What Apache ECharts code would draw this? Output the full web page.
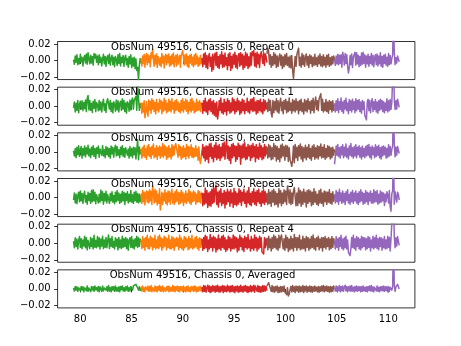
<!DOCTYPE html>
<html>
<head>
<meta charset="utf-8">
<script src="https://cdn.jsdelivr.net/npm/echarts@6/dist/echarts.min.js"></script>
<style>
  html, body { margin: 0; padding: 0; background: #fff; }
  #chart { width: 461px; height: 346px; }
</style>
</head>
<body>
<div id="chart"></div>
<script>
// Frequency bands (GHz) covered by each spectrometer section
const bandStart = [79.35, 85.93, 91.86, 98.19, 104.77];
const bandEnd   = [85.93, 91.86, 98.19, 104.77, 111.07];
const bandColors = ['#2ca02c', '#ff7f0e', '#d62728', '#8c564b', '#9467bd'];

const panelTitles = [
  'ObsNum 49516, Chassis 0, Repeat 0',
  'ObsNum 49516, Chassis 0, Repeat 1',
  'ObsNum 49516, Chassis 0, Repeat 2',
  'ObsNum 49516, Chassis 0, Repeat 3',
  'ObsNum 49516, Chassis 0, Repeat 4',
  'ObsNum 49516, Chassis 0, Averaged'
];

const xTicks = [80, 85, 90, 95, 100, 105, 110];
const yTicks = [-0.02, 0, 0.02];

// Residual spectra in units of 1e-4, one list per band (green, orange, red, brown, purple)
const repeat0 = [
  [10, -45, 55, -20, 70, -50, 25, -40, 75, -15,
   40, -65, 30, 60, -30, 80, -45, 95, 20, -40,
   65, -30, 50, -55, 85, 30, 75, -20, 55, -50,
   70, -25, 40, -65, 20, 75, -40, 50, -70, 35,
   60, -35, 80, -55, 25, 65, -50, 40, -75, 50,
   15, -60, 70, -35, 85, -65, 40, -25, 60, -70,
   35, 65, -50, 25, -80, 50, -40, 70, -85, 30,
   -65, 40, -100, 20, -120, -80, -235, -50, 25, -35],
  [25, -65, 55, -35, 75, -80, 40, 85, -50, 70,
   -25, 55, -75, 95, 30, 140, 15, -70, 65, -40,
   80, -85, 50, 70, -55, 35, -75, 85, -30, 55,
   -90, 40, 75, -50, 65, -25, 80, -70, 50, -55,
   70, -40, 90, -75, 30, 60, -65, 75, -45, 25,
   65, -80, 55, 85, 120, 40, -55, 70, -40, 80,
   -70, 50, -85, 65, -30, 75, -55, 40, -75, 70,
   -50, 85, -40, 55, -70, 30, -55, 65, -35, 25],
  [30, -75, 80, -45, 95, -85, 60, -100, 45, 85,
   -70, 40, -130, 75, -105, 55, 90, -60, 100, -80,
   50, -95, 70, -40, 105, -85, 65, -75, 90, -55,
   35, -110, 80, -60, 95, -120, 50, -90, 75, -45,
   100, -80, 60, -100, 40, 85, -70, 95, -50, 75,
   -105, 55, -85, 100, -60, 80, -95, 45, -75, 90,
   -55, 110, 60, 120, -65, 85, -80, 100, -40, 75,
   -85, 65, 105, 115, -35, 95, -60, 80, 45, -25],
  [80, 150, 110, -45, 70, -80, 50, -60, 95, -40,
   75, -85, 55, -70, 35, 80, -55, 65, -95, 45,
   -75, 70, -50, 85, -60, 40, -80, 55, -90, 60,
   -110, -220, -85, 50, -70, 75, 95, 150, -60, 40,
   -80, 85, -50, 65, -70, 35, 80, -55, 50, -85,
   70, -35, 55, -75, 40, -60, 75, -50, 35, -70,
   55, -40, 80, -65, 50, -75, 70, -55, 40, -80,
   65, -50, 75, -70, 35, -55, 50, -40, 55, 15],
  [20, -60, 55, -40, 75, -50, 65, -35, 70, -80,
   100, 45, -55, 85, -35, 70, -70, -150, -90, 60,
   -50, 80, -85, 40, 70, 100, -55, 95, -40, 65,
   -75, 50, -60, 90, -45, 100, -35, 70, -80, 55,
   -40, 75, -70, 50, -35, 85, -55, 65, -75, 40,
   70, -50, 80, -65, 55, -40, 95, -70, 50, -80,
   65, -35, 75, -55, 40, -70, 85, -50, 60, -40,
   25, 65, 600, 100, -50, 35, -30, 55, 75, -15]
];

const repeat1 = [
  [-20, 50, -70, 35, -50, 70, -80, 25, 60, -35,
   65, -55, 45, -30, 75, -65, 95, 130, -45, 70,
   -50, 35, -75, 60, -25, 80, -65, 45, 20, -55,
   70, -45, 50, -70, 35, 85, -50, 30, -75, 60,
   90, 110, -35, 70, -65, 40, -80, 55, 25, -60,
   75, -45, 65, -70, 35, 60, -50, 90, -35, 70,
   -65, 40, -85, 55, 30, -60, 75, -45, 65, 100,
   -35, 70, 90, 120, -50, 260, 100, -50, 30, -20],
  [45, -85, 35, -70, 65, -140, -80, 55, -60, -120,
   75, -45, 60, -85, 90, -35, 70, -65, 45, -95,
   80, -50, 35, -70, 85, -30, 65, -90, 50, -60,
   95, -45, 70, -80, 35, -65, 85, -50, 60, -70,
   90, -35, 45, -85, 65, -55, 80, -45, 50, -65,
   30, -80, 70, -50, 90, -70, 55, -35, 85, -60,
   65, -90, 45, -50, 80, -70, 95, -45, 60, -80,
   35, -65, 85, -55, 50, -45, 70, -65, 40, 20],
  [40, -85, 65, -55, 95, -70, 50, -100, 75, -45,
   90, -65, 55, -90, 70, -110, 35, -125, 50, -155,
   -80, 70, -50, 100, -80, 35, -95, 85, -65, 50,
   -105, 90, -55, 70, -85, 40, -70, 100, -50, 80,
   -90, 55, -65, 95, -45, 65, -100, 50, -80, 85,
   -55, 70, -90, 35, -50, 95, -70, 55, -85, 80,
   -45, 90, -65, 105, -55, 50, -95, 70, -80, 65,
   -50, 85, -70, 45, -90, 80, -55, 65, -35, 40],
  [50, -65, 85, -50, 70, -90, -130, 70, -80, 55,
   -45, 90, -70, 65, -85, 40, 95, -55, 50, -90,
   70, -35, 85, -80, 55, -65, 100, -50, 40, -85,
   80, -55, 65, -70, 90, -45, 55, -90, 70, -50,
   85, -65, 40, -95, 80, -55, 65, -70, 90, -35,
   55, -85, 70, -50, 95, -80, 50, 110, -40, 65,
   -55, 90, 120, 150, -50, 85, -70, 40, -55, 80,
   -65, 50, -85, 70, -40, 55, -70, 65, -50, -30],
  [35, -70, 65, -50, 90, -80, 55, -40, 100, -65,
   50, -85, 70, -35, 95, -55, 40, -90, 80, -50,
   65, -70, 85, -40, 55, -80, 90, -55, 70, -35,
   80, -65, 50, -85, 70, -40, 55, -110, -130, -165,
   50, 85, -55, 70, -80, 40, 90, -65, 55, -40,
   80, -70, 50, -85, 65, -50, 85, -35, 70, -65,
   55, -80, 40, -50, 90, -70, 65, -55, 80, -40,
   50, 70, 620, 90, -40, 65, -35, 85, 100, -15]
];

const repeat2 = [
  [15, -50, 40, -70, 55, -35, 75, -55, 25, 65,
   -75, 40, -40, 70, -60, 50, -25, 80, -50, 35,
   -70, 55, -35, 75, -55, 40, -80, 50, -20, 70,
   -65, 35, 55, -40, 75, -50, 25, -70, 65, -35,
   50, -55, 40, -75, 70, -25, 55, -65, 35, 80,
   -50, 65, -40, 25, -70, 55, -35, 75, -55, 40,
   -65, 50, 70, -40, 35, -75, 65, -50, 40, -70,
   55, -35, 50, -85, -100, 150, -95, 60, -25, 30],
  [40, -75, 55, -50, 80, -65, 35, -90, 70, -40,
   90, -55, 50, -80, 65, -35, 95, -70, 40, -55,
   75, -90, 50, -40, 70, -75, 55, -50, 100, -65,
   80, -40, 65, -90, 50, -70, 75, -55, 40, -85,
   90, -50, 65, -35, 70, 100, 80, 120, -65, 85,
   -40, 65, -90, 50, -70, 75, -55, 40, -85, 90,
   -50, 65, -75, 55, -40, 85, -65, 50, -70, 40,
   -55, 75, -50, 35, -100, 60, -90, -140, -75, 20],
  [-45, 90, -70, 55, -110, 75, -90, 65, -130, 95,
   -55, 105, -80, 50, -120, 80, -65, 110, -95, 70,
   -75, 90, -105, 55, -70, 100, -50, 120, -90, 65,
   150, -80, 70, -100, 55, -140, 90, -70, 100, -50,
   75, -115, 65, -90, 105, -55, 80, -150, 70, -75,
   95, -65, 110, -95, 55, -85, 90, -50, 70, -105,
   80, -70, 100, -55, 65, -120, 90, -75, 55, -90,
   105, -60, 75, -95, 50, -80, 90, -50, 65, -30],
  [55, -75, 90, -60, 70, -95, 50, -85, 100, -55,
   75, -110, 65, -90, 40, -120, 80, -70, 95, -50,
   65, -100, 80, -55, 70, -115, 50, -90, -130, -175,
   -100, 70, -130, 90, -70, 55, -105, 75, -50, 95,
   -85, 65, -115, 50, -70, 80, -95, 55, -65, 90,
   -80, 40, -100, 70, -55, 85, -90, 50, -70, 75,
   -85, 65, -50, 95, -75, 55, -65, 85, -90, 40,
   -70, 75, -55, 65, -85, 50, -70, 55, -40, 30],
  [-150, -60, 70, -40, 90, -55, 50, -75, 65, -35,
   85, -70, 55, -50, 95, -65, 40, -85, 70, -40,
   100, -55, 50, -75, 65, -50, 85, -70, 55, -35,
   75, -65, 50, -85, 70, -55, 40, -70, 65, -50,
   80, -40, 90, -65, 55, -85, 70, -35, 50, -70,
   85, -55, 65, -40, 80, -70, 50, -85, 65, -50,
   70, -35, 55, -75, 40, -65, 85, -50, 65, -40,
   30, 70, 580, 100, -60, 55, -40, 65, 80, -20]
];

const repeat3 = [
  [-30, 55, -65, 40, -75, 25, 65, -50, 80, -40,
   50, -70, 35, 75, -55, 25, -80, 65, -35, 50,
   -70, 85, -50, 95, -40, 65, -75, 35, 55, -65,
   40, -55, 90, -35, 70, -80, 50, -40, 75, -65,
   35, 55, -70, 50, -40, 70, -55, 25, -75, 65,
   -50, 85, -35, 55, -70, 40, -55, 75, -40, 65,
   -85, 50, -35, 70, -65, 40, -50, 85, -55, 35,
   -70, 65, -40, 75, -55, 50, -65, 40, -50, 25],
  [50, -70, 85, -50, 65, -90, 40, 80, -55, 70,
   -65, 95, -40, 75, -85, 140, 55, -65, 100, -50,
   80, -90, 40, -70, 105, -150, -60, 65, -85, 50,
   -40, 95, -70, 55, -90, 80, -50, 70, -80, 35,
   100, -65, 50, -85, 70, -55, 95, -40, 65, -80,
   55, -70, 85, -50, 65, -95, 40, -55, 80, -70,
   50, -40, 95, -65, 70, -85, 55, -50, 80, -35,
   65, -80, 40, -55, 85, -50, 70, -65, 50, 30],
  [60, -100, 45, -80, 115, -65, 85, -120, 55, -95,
   70, -105, 100, -70, 120, -55, 95, 150, -85, 65,
   -115, 80, -55, 105, -95, 50, -70, 85, -125, 65,
   -80, 100, -50, 70, -105, 95, -65, 55, -120, 110,
   -85, 70, -100, 50, -80, 105, -55, 85, -95, 65,
   -40, 100, -70, 55, -115, 80, -65, 120, -85, 50,
   -100, 70, -55, 105, -80, 65, -95, 85, -50, 100,
   -70, 55, -105, 80, -65, 95, -85, 70, -55, 40],
  [55, -85, 95, -70, 65, -105, 85, -55, 100, -90,
   70, -80, 50, -115, 105, -65, 85, -100, 55, -70,
   95, -50, 80, -85, 140, 70, -65, 95, -85, 55,
   -70, 80, 120, 135, -100, 55, -95, 115, -65, 85,
   -105, 70, -80, 100, -55, 65, -115, 85, -70, 95,
   -50, 80, -100, 65, -85, 105, -55, 70, -80, 40,
   -95, 85, -65, 100, -70, 55, -105, 80, -50, 70,
   -85, 65, -55, 95, -70, 50, -80, 70, -45, 35],
  [40, -65, 85, -50, 65, -80, 100, -40, 55, -70,
   80, -55, 50, -85, 70, -35, 95, -65, 40, -80,
   65, -50, 85, -70, 55, -40, 80, -65, 50, -85,
   70, -55, 95, -40, 65, -80, 50, -70, 85, -50,
   65, -85, 55, -40, 80, -65, 50, -70, 95, -55,
   70, -50, 85, -80, 40, -65, 80, -55, 65, -40,
   55, -95, 40, -50, 70, 35, -65, 85, -110, -165,
   45, 80, 600, -80, 70, 50, -55, 65, 40, -30]
];

const repeat4 = [
  [25, -55, 65, -40, 50, -70, 35, 80, -50, 55,
   -65, 40, -35, 85, -55, 65, -80, 35, 50, -65,
   70, -40, 55, -70, 95, -50, 35, -55, 80, -40,
   65, -70, 50, -35, 85, -65, 40, -50, 70, -55,
   35, 100, -65, 55, -40, 80, -50, 25, -70, 65,
   -35, 50, -80, 70, -55, 40, -65, 85, -50, 55,
   -40, 70, -65, 50, -85, 35, 65, -50, 80, -55,
   40, -70, 55, -35, 85, -50, 65, -40, 50, 15],
  [40, -65, 80, -50, 55, -85, 70, -40, 95, -65,
   50, -70, 85, -35, 65, -80, 55, -50, 95, -70,
   40, -55, 80, -65, 100, -40, 65, -85, 50, -55,
   85, -35, 70, -80, 55, -50, 95, -65, 40, -70,
   80, -55, 65, -85, 50, -40, 70, -35, 55, -80,
   95, -50, 65, -70, 40, -85, 80, -55, 70, -40,
   50, -80, 85, -65, 55, -50, 95, -70, 40, -55,
   70, -40, 80, -65, 50, -85, 65, -50, 55, -30],
  [50, -85, 70, -65, 95, -55, 80, -100, 40, -70,
   105, -50, 65, -95, 85, -55, 70, -105, 50, -80,
   100, -65, 55, -85, 80, -50, 95, -70, 65, -100,
   40, -80, 85, -55, 70, -95, 50, -65, 100, -70,
   80, -55, 65, -105, 50, -85, 95, -40, 70, -80,
   55, -100, 85, -50, 65, -70, 105, -55, 40, -95,
   80, -65, 50, -85, 100, -55, 70, -95, 55, -70,
   85, -50, 65, -105, -115, -130, 70, -55, 50, -30],
  [65, -80, 85, -55, 50, -95, 70, -65, 100, -50,
   80, -70, 55, -85, 95, -55, 70, 100, 110, -70,
   55, -85, 95, -55, 70, -100, 50, -80, 85, -65,
   55, -95, 105, -50, 70, -85, 65, -55, 95, -80,
   40, -70, 85, -65, 55, -95, 80, -50, 70, -85,
   50, -65, 80, -50, 100, -70, 55, -85, 65, -40,
   85, -80, 50, -55, 70, -95, 65, -50, 80, -70,
   55, -40, 70, -80, 50, -65, 80, -50, 55, 30],
  [30, -70, 80, -50, 55, -85, 70, -40, 95, -65,
   50, -80, 65, -55, 85, -70, 40, -110, -95, -150,
   -65, 70, -50, 95, -65, 55, -85, 80, -40, 65,
   -70, 50, -80, 85, -55, 70, -40, 65, -80, 55,
   -65, 80, -50, 70, -95, 40, -55, 85, -70, 65,
   -50, 95, -65, 55, -80, 70, -40, 65, -85, 50,
   -55, 80, -70, 40, -65, 85, -50, 70, -95, 55,
   40, 65, 600, 80, -55, 65, -35, 80, 70, -25]
];

const averaged = [
  [10, -25, 30, -15, 25, -30, 15, 35, -25, 30,
   -15, 25, -35, 15, 30, -25, 35, -30, 10, 25,
   -35, 30, -15, 25, -30, 35, -10, 15, -25, 30,
   -35, 25, 15, -30, 35, -25, 10, 30, -15, 25,
   -30, 40, -25, 15, -35, 30, -15, 25, -30, 35,
   -25, 15, -30, 25, -35, 30, -10, 35, -25, 15,
   -30, 25, -15, 35, -30, 15, -25, 30, 45, -15,
   35, 25, 45, 55, 35, 10, -15, 25, -20, 10],
  [30, -25, 35, -30, 15, -35, 25, 30, -15, 35,
   -30, 25, -25, 40, -35, 15, 30, -30, 35, -25,
   25, -35, 30, -15, 40, -30, 25, -25, 35, -35,
   15, 30, -30, 25, -15, 35, -35, 30, -25, 15,
   -30, 40, -25, 30, -35, 25, -15, 35, -30, 25,
   -35, 30, -15, 25, -30, 35, -25, 15, -35, 30,
   -25, 35, -30, 15, -35, 30, -15, 25, -30, 35,
   -25, 30, -35, 15, -30, 25, -15, 30, -25, 10],
  [25, -35, 40, -30, 35, -40, 15, 45, -30, 35,
   -45, 25, -35, 40, -25, 30, -40, 35, -30, 45,
   -35, 25, -40, 30, -25, 40, -45, 35, -30, 25,
   -35, 45, -25, 30, -40, 35, -30, 40, -35, 25,
   -45, 30, -25, 35, -40, 30, -35, 45, -30, 25,
   -40, 35, -25, 40, -35, 30, -45, 25, -30, 40,
   -35, 30, -25, 45, -40, 35, 55, -30, 40, -35,
   30, -40, 25, -35, 40, -30, 35, -25, 30, -20],
  [35, 55, 75, 60, 70, -30, 40, -35, 25, -40,
   30, -25, 35, -45, 20, -40, 30, -35, 25, -30,
   35, -40, -55, -70, 15, -85, -60, -40, 30, -35,
   40, -30, 25, -45, 35, -25, 30, -40, 35, -35,
   25, -30, 40, -45, 30, -25, 35, -40, 25, -30,
   35, -35, 30, -40, 25, -30, 35, -25, 20, -35,
   30, -40, 25, -30, 35, -25, 40, -35, 30, -25,
   35, -30, 25, -40, 30, -35, 25, -30, 35, 15],
  [15, -25, 35, -30, 25, -20, 40, -35, 30, -25,
   35, -30, 20, 45, -25, 30, -35, 25, -20, 35,
   -30, 40, -25, 20, -35, 30, -25, 35, -30, 25,
   -20, 30, -35, 25, -30, 35, -25, 20, -30, 25,
   -35, 30, -20, 35, -25, 40, -30, 25, -35, 20,
   30, -25, 35, -30, 20, -35, 25, -20, 30, -25,
   35, -30, 25, -20, 30, -35, 25, -30, 20, 30,
   -15, 25, 620, 45, -30, 25, 30, 55, 40, 0]
];

const panels = [repeat0, repeat1, repeat2, repeat3, repeat4, averaged];

// Layout of the stacked panels (pixels)
const plotLeft = 57.6, plotWidth = 357.3;
const plotTop0 = 41.5, plotHeight = 38.06, plotGap = 7.61;
const FONT = 'DejaVu Sans';

const grids = [], xAxes = [], yAxes = [], series = [], texts = [];

panels.forEach((bands, p) => {
  const top = plotTop0 + p * (plotHeight + plotGap);
  const last = p === panels.length - 1;
  grids.push({
    left: plotLeft, top: top, width: plotWidth, height: plotHeight,
    show: true, borderColor: '#000', borderWidth: 0.8, backgroundColor: 'transparent'
  });
  xAxes.push({
    type: 'value', gridIndex: p, min: 77.8, max: 112.6,
    axisLine: { show: false },
    splitLine: { show: false },
    axisTick: { show: true, length: 3.5, inside: false, customValues: xTicks,
      lineStyle: { color: '#000', width: 0.8 } },
    axisLabel: { show: last, customValues: xTicks, margin: 6,
      fontFamily: FONT, fontSize: 10, color: '#000' }
  });
  yAxes.push({
    type: 'value', gridIndex: p, min: -0.023, max: 0.023,
    axisLine: { show: false },
    splitLine: { show: false },
    axisTick: { show: true, length: 3.5, inside: false, customValues: yTicks,
      lineStyle: { color: '#000', width: 0.8 } },
    axisLabel: { show: true, customValues: yTicks, margin: 7,
      fontFamily: FONT, fontSize: 10, color: '#000',
      formatter: v => (v < 0 ? '\u2212' : '') + Math.abs(v).toFixed(2) }
  });
  bands.forEach((vals, b) => {
    const n = vals.length;
    const step = (bandEnd[b] - bandStart[b]) / (n - 1);
    series.push({
      type: 'line', xAxisIndex: p, yAxisIndex: p,
      data: vals.map((v, k) => [bandStart[b] + k * step, v * 1e-4]),
      symbol: 'none', showSymbol: false, clip: true,
      lineStyle: { color: bandColors[b], width: 1.5, join: 'round' },
      emphasis: { disabled: true }, silent: true, z: 2
    });
  });
  texts.push({
    type: 'text', x: 202.5, y: top + 0.5, z: 100,
    style: { text: panelTitles[p], fill: '#000', font: '10px "DejaVu Sans"',
      align: 'center', verticalAlign: 'top' }
  });
});

const chart = echarts.init(document.getElementById('chart'), null, { renderer: 'canvas' });
chart.setOption({
  animation: false,
  backgroundColor: '#fff',
  grid: grids,
  xAxis: xAxes,
  yAxis: yAxes,
  series: series,
  graphic: texts
});
</script>
</body>
</html>
